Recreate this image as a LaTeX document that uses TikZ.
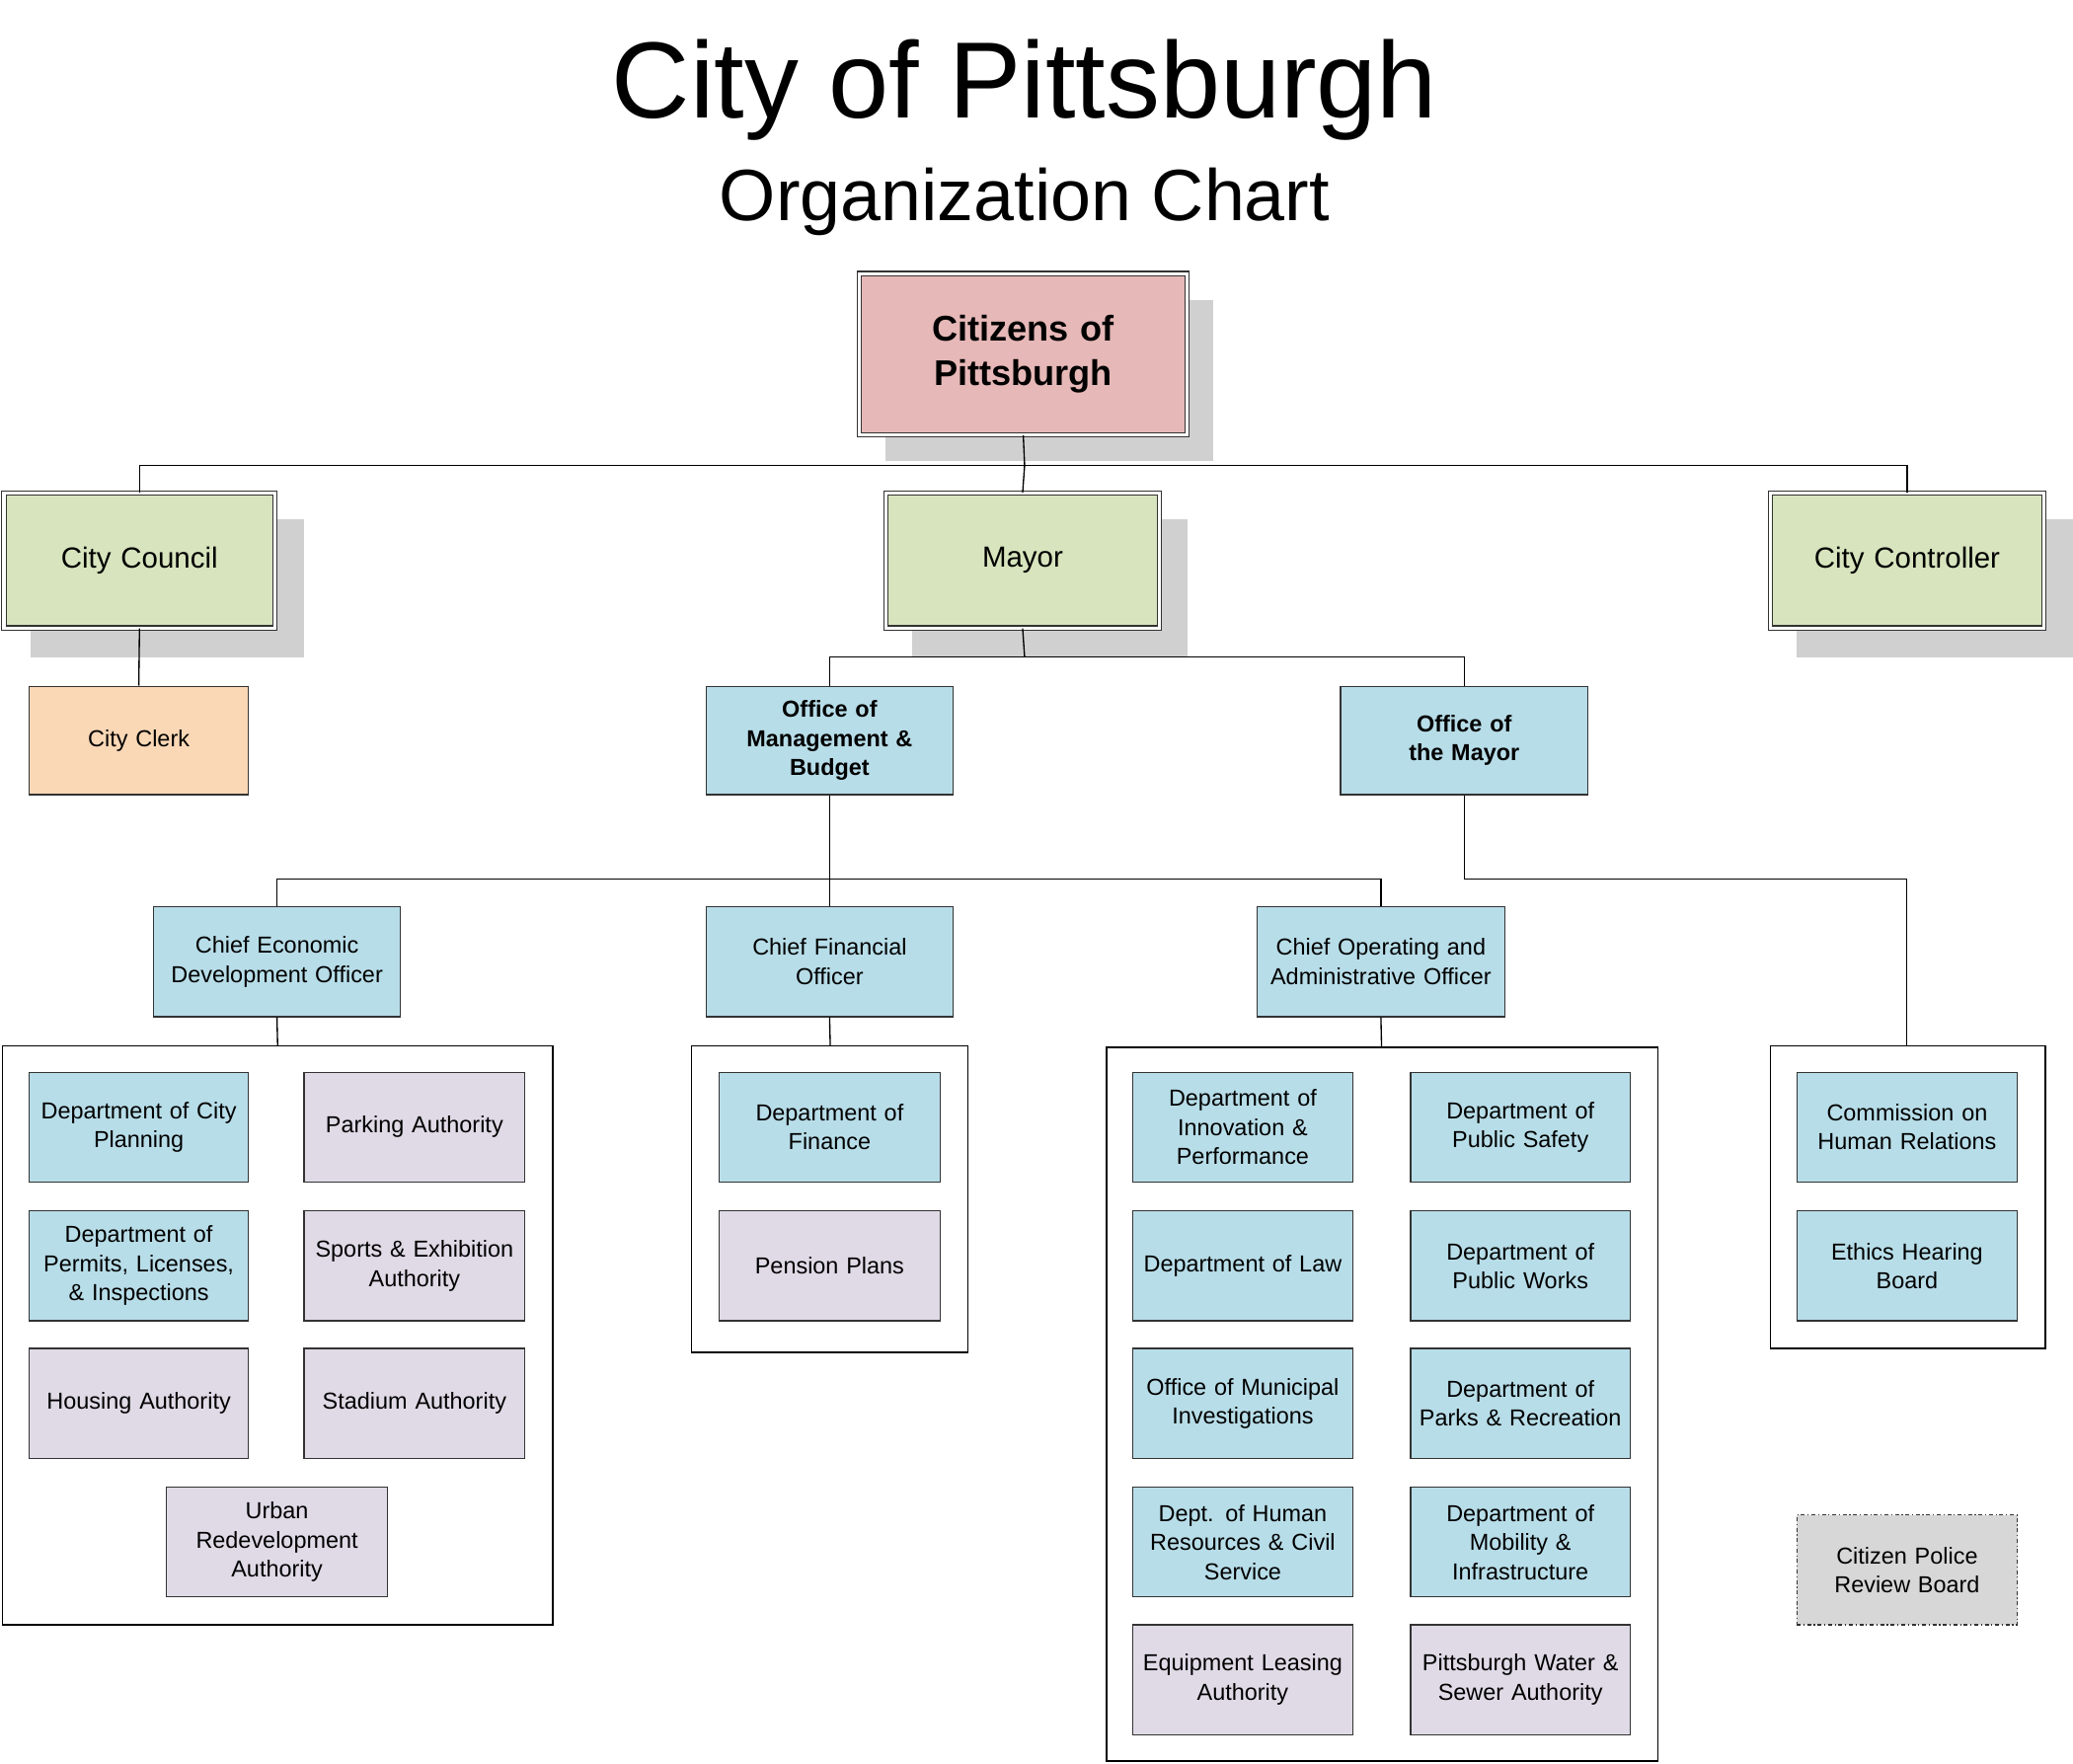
\documentclass[tikz,border=0pt]{standalone}
\usepackage{fontspec}
\setmainfont{Liberation Sans}
\definecolor{pinkc}{HTML}{E6B8B7}
\definecolor{greenc}{HTML}{D7E4BD}
\definecolor{bluec}{HTML}{B7DDE8}
\definecolor{orangec}{HTML}{FAD7B5}
\definecolor{purpc}{HTML}{DFDAE6}
\definecolor{shadc}{HTML}{D0D0D0}
\begin{document}
\begin{tikzpicture}[x=1pt,y=-1pt,
  bx/.style={draw=black!80,line width=0.9pt,inner sep=0pt,align=center,font=\fontsize{17.5}{22}\selectfont},
  top/.style={bx,double=white,double distance=2.5pt,line width=0.8pt},
  cont/.style={draw=black,line width=1.2pt},
  ln/.style={draw=black,line width=1pt}]
\useasboundingbox (0,0) rectangle (1568,1334);
\newcommand{\bxat}[6]{% name,x1,y1,x2,y2,style+text
  \node[#6] (#1) at ({(#2+#4)/2},{(#3+#5)/2}) [minimum width={#4-#2},minimum height={#5-#3},text width={#4-#2-6}]}
\node[font=\fontsize{82}{90}\selectfont] (t1) at (775,68) {City of Pittsburgh};
\node[font=\fontsize{55}{60}\selectfont] (t2) at (775,153) {Organization Chart};
% shadows
\fill[shadc] (670,227) rectangle (918,349);
\fill[shadc] (23,393) rectangle (230,497);
\fill[shadc] (690,393) rectangle (898,497);
\fill[shadc] (1359,393) rectangle (1568,497);
% containers
\draw[cont] (2,791) rectangle (418,1229);
\draw[cont] (523,791) rectangle (732,1023);
\draw[cont] (837,792) rectangle (1254,1332);
\draw[cont] (1339,791) rectangle (1547,1020);
\bxat{cit}{650}{207}{898}{329}{top,fill=pinkc,font=\bfseries\fontsize{27}{34}\selectfont}{Citizens of\\Pittsburgh};
\bxat{cc}{3}{373}{208}{475}{top,fill=greenc,font=\fontsize{22}{26}\selectfont}{City Council};
\bxat{may}{670}{373}{877}{475}{top,fill=greenc,font=\fontsize{22}{26}\selectfont}{Mayor};
\bxat{ctl}{1339}{373}{1546}{475}{top,fill=greenc,font=\fontsize{22}{26}\selectfont}{City Controller};
\bxat{clk}{22}{519}{188}{601}{bx,fill=orangec}{City Clerk};
\bxat{omb}{534}{519}{721}{601}{bx,fill=bluec,font=\bfseries\fontsize{17.5}{22}\selectfont}{Office of\\Management \&\\Budget};
\bxat{om}{1014}{519}{1201}{601}{bx,fill=bluec,font=\bfseries\fontsize{17.5}{22}\selectfont}{Office of\\the Mayor};
\bxat{ced}{116}{686}{303}{769}{bx,fill=bluec}{Chief Economic\\Development Officer};
\bxat{cfo}{534}{686}{721}{769}{bx,fill=bluec}{Chief Financial\\Officer};
\bxat{coo}{951}{686}{1138}{769}{bx,fill=bluec}{Chief Operating and\\Administrative Officer};
% left
\bxat{l1}{22}{811}{188}{894}{bx,fill=bluec}{Department of City\\Planning};
\bxat{l2}{230}{811}{397}{894}{bx,fill=purpc}{Parking Authority};
\bxat{l3}{22}{916}{188}{999}{bx,fill=bluec}{Department of\\Permits, Licenses,\\\& Inspections};
\bxat{l4}{230}{916}{397}{999}{bx,fill=purpc}{Sports \& Exhibition\\Authority};
\bxat{l5}{22}{1020}{188}{1103}{bx,fill=purpc}{Housing Authority};
\bxat{l6}{230}{1020}{397}{1103}{bx,fill=purpc}{Stadium Authority};
\bxat{l7}{126}{1125}{293}{1208}{bx,fill=purpc}{Urban\\Redevelopment\\Authority};
% cfo
\bxat{f1}{544}{811}{711}{894}{bx,fill=bluec}{Department of\\Finance};
\bxat{f2}{544}{916}{711}{999}{bx,fill=purpc}{Pension Plans};
% coo
\bxat{o1}{857}{811}{1023}{894}{bx,fill=bluec}{Department of\\Innovation \&\\Performance};
\bxat{o2}{1067}{811}{1233}{894}{bx,fill=bluec}{Department of\\Public Safety};
\bxat{o3}{857}{916}{1023}{999}{bx,fill=bluec}{Department of Law};
\bxat{o4}{1067}{916}{1233}{999}{bx,fill=bluec}{Department of\\Public Works};
\bxat{o5}{857}{1020}{1023}{1103}{bx,fill=bluec}{Office of Municipal\\Investigations};
\bxat{o6}{1067}{1020}{1233}{1103}{bx,fill=bluec}{Department of\\Parks \& Recreation};
\bxat{o7}{857}{1125}{1023}{1208}{bx,fill=bluec}{Dept. of Human\\Resources \& Civil\\Service};
\bxat{o8}{1067}{1125}{1233}{1208}{bx,fill=bluec}{Department of\\Mobility \&\\Infrastructure};
\bxat{o9}{857}{1229}{1023}{1312}{bx,fill=purpc}{Equipment Leasing\\Authority};
\bxat{o10}{1067}{1229}{1233}{1312}{bx,fill=purpc}{Pittsburgh Water \&\\Sewer Authority};
% right
\bxat{r1}{1359}{811}{1526}{894}{bx,fill=bluec}{Commission on\\Human Relations};
\bxat{r2}{1359}{916}{1526}{999}{bx,fill=bluec}{Ethics Hearing\\Board};
\bxat{cp}{1359}{1146}{1526}{1229}{bx,fill=shadc!85,dash dot}{Citizen Police\\Review Board};
% connectors
\coordinate (ja) at (775,352);
\draw[ln] (cit.south) -- (ja);
\draw[ln] (cc.north) |- (ja) -| (ctl.north);
\draw[ln] (ja) -- (may.north);
\draw[ln] (cc.south) -- (clk.north);
\coordinate (jb) at (775,497);
\draw[ln] (may.south) -- (jb);
\draw[ln] (omb.north) |- (jb) -| (om.north);
\coordinate (jc) at (628,665);
\draw[ln] (omb.south) -- (cfo.north);
\draw[ln] (ced.north) |- (jc) -| (coo.north);
\draw[ln] (om.south) |- (1442,665) -- (1442,791);
\draw[ln] (ced.south) -- (210,791);
\draw[ln] (cfo.south) -- (628,791);
\draw[ln] (coo.south) -- (1045,792);
\end{tikzpicture}
\end{document}
